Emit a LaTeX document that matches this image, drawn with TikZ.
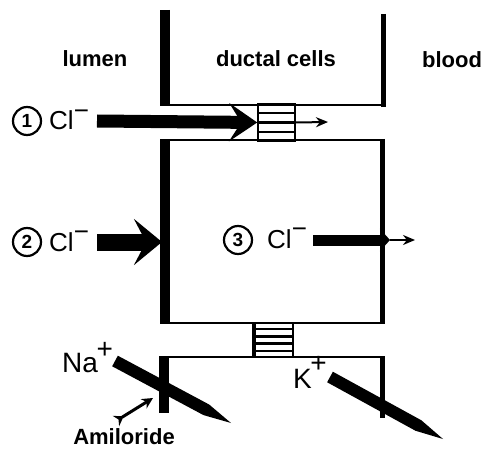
\documentclass[tikz,border=0pt]{standalone}
\usepackage{fontspec}
\setmainfont{Liberation Sans}
\usetikzlibrary{arrows.meta,calc}
\begin{document}
\begin{tikzpicture}[x=1pt,y=-1pt,
  wallL/.style={line width=10pt},
  wallR/.style={line width=5pt},
  memb/.style={line width=2pt},
  hdr/.style={font=\fontsize{22}{26}\selectfont\bfseries, inner sep=0pt, anchor=base},
  ion/.style={font=\fontsize{26}{30}\selectfont, inner sep=0pt, anchor=base west},
  num/.style={circle, draw, line width=2.2pt, minimum size=28pt, inner sep=0pt, font=\fontsize{19}{22}\selectfont\bfseries},
  junction/.style={draw, line width=1.5pt, minimum width=37pt, inner sep=0pt},
  thinarrow/.style={line width=2pt, -{Stealth[length=12pt,width=10pt]}},
  stripe/.style={line width=2.2pt}
]
\useasboundingbox (0,0) rectangle (487,449);

% headings
\node[hdr] (lumen) at (95,67) {lumen};
\node[hdr] (ductal) at (276,67) {ductal cells};
\node[hdr] (blood) at (452,68) {blood};

% top cell
\coordinate (tcL1) at (165,10);
\coordinate (tcL2) at (165,105);
\coordinate (tcR1) at (383,14);
\coordinate (tcR2) at (383,107);
\draw[wallL] (tcL1) -- (tcL2);
\draw[memb] (160,105) -- (385,105);
\draw[wallR] (tcR1) -- (tcR2);

% middle cell
\coordinate (mcTL) at (165,140);
\coordinate (mcBL) at (165,323);
\coordinate (mcTR) at (382,139);
\coordinate (mcBR) at (382,324);
\draw[wallL] (mcTL) -- (mcBL);
\draw[memb] (160,140) -- (384,140);
\draw[memb] (160,323) -- (384,323);
\draw[wallR] (mcTR) -- (mcBR);

% bottom cell
\coordinate (bcTL) at (164,357);
\coordinate (bcBL) at (164,413);
\coordinate (bcTR) at (382,356);
\coordinate (bcBR) at (382,418);
\draw[memb] (159,357) -- (384,357);
\draw[wallL] (bcTL) -- (bcBL);
\draw[wallR] (bcTR) -- (bcBR);

% tight junction 1
\node[junction, minimum height=35pt] (tj1) at (276.5,122.5) {};
\foreach \f in {0.25,0.5,0.75}
  \draw[stripe] ($(tj1.north west)!\f!(tj1.south west)$) -- ($(tj1.north east)!\f!(tj1.south east)$);
\draw[stripe] (tj1.north west) -- (tj1.north east);
\draw[stripe] (tj1.south west) -- (tj1.south east);

% tight junction 2
\node[junction, minimum width=40pt, minimum height=34pt] (tj2) at (273,340) {};
\foreach \f in {0.2,0.4,0.6,0.8}
  \draw[stripe] ($(tj2.north west)!\f!(tj2.south west)$) -- ($(tj2.north east)!\f!(tj2.south east)$);
\draw[line width=4pt] ([xshift=2pt]tj2.north west) -- ([xshift=2pt]tj2.south west);

% pathway 1
\node[num] (n1) at (27,121) {1};
\node[ion] (cl1) at (49,130) {Cl\raisebox{0.42em}{−}};
\coordinate (a1s) at (97,121);
\draw[line width=13pt, -{Stealth[length=28pt,width=38pt,inset=12pt]}] (a1s) -- (tj1.west);
\coordinate (j1e) at (328,122);
\draw[thinarrow] (tj1.east) -- (j1e);

% pathway 2
\node[num] (n2) at (27,242) {2};
\node[ion] (cl2) at (49,251) {Cl\raisebox{0.42em}{−}};
\coordinate (a2s) at (97,242);
\coordinate (a2e) at (162,242);
\draw[line width=17pt, -{Stealth[length=28pt,width=46pt,inset=12pt]}] (a2s) -- (a2e);

% pathway 3
\node[num] (n3) at (238,240) {3};
\node[ion] (cl3) at (267,248) {Cl\raisebox{0.42em}{−}};
\coordinate (a3s) at (313,240);
\coordinate (a3e) at (390,240);
\coordinate (a3f) at (415,240);
\draw[line width=11pt, -{Stealth[length=10pt,width=22pt,inset=3pt]}] (a3s) -- (a3e);
\draw[thinarrow] (a3e) -- (a3f);

% Na+ and K+ pencil-shaped arrows
\node[ion, font=\fontsize{28}{32}\selectfont] (na) at (62,372) {Na\kern-0.05em\raisebox{0.5em}{+}};
\coordinate (nas) at (115,361);
\coordinate (nae) at (231,423);
\coordinate (nat) at ($(nae)!28pt!(nas)$);
\fill ($(nas)!6pt!90:(nae)$) -- ($(nat)!6pt!-90:(nas)$) -- (nae)
      -- ($(nat)!6pt!90:(nas)$) -- ($(nas)!6pt!-90:(nae)$) -- cycle;

\node[ion, font=\fontsize{28}{32}\selectfont] (k) at (293,388) {K\kern-0.05em\raisebox{0.55em}{+}};
\coordinate (ks) at (330,377);
\coordinate (ke) at (443,439);
\coordinate (kt) at ($(ke)!28pt!(ks)$);
\fill ($(ks)!6pt!90:(ke)$) -- ($(kt)!6pt!-90:(ks)$) -- (ke)
      -- ($(kt)!6pt!90:(ks)$) -- ($(ks)!6pt!-90:(ke)$) -- cycle;

% amiloride
\node[hdr] (amil) at (124,444) {Amiloride};
\coordinate (ams) at (116,421);
\coordinate (ame) at (153,398);
\draw[line width=3pt, {Stealth[reversed,length=9pt,width=12pt]}-{Stealth[length=11pt,width=11pt]}] (ams) -- (ame);
\end{tikzpicture}
\end{document}
